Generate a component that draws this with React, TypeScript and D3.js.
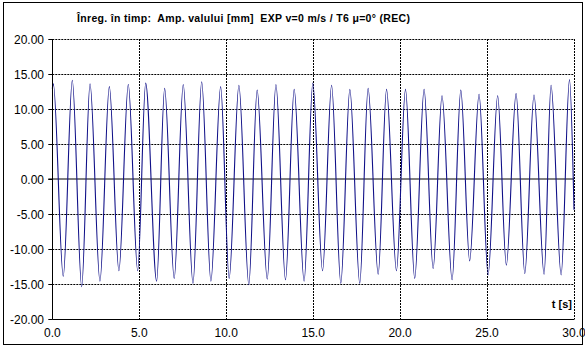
import React from "react";
import * as d3 from "d3";

const times = [
  0, 0.06, 0.63, 1.15, 1.69, 2.17, 2.74, 3.28, 3.83, 4.37, 4.91, 5.37, 6.0, 6.46, 7.01, 7.53,
  8.09, 8.59, 9.12, 9.68, 10.17, 10.73, 11.3, 11.78, 12.36, 12.86, 13.41, 13.91, 14.48, 14.98,
  15.54, 16.06, 16.59, 17.11, 17.68, 18.16, 18.74, 19.22, 19.79, 20.31, 20.84, 21.38, 21.9,
  22.41, 22.99, 23.49, 24.0, 24.54, 25.06, 25.61, 26.11, 26.67, 27.17, 27.7, 28.28, 28.68,
  29.26, 29.74, 30.0,
];
const amplitudes = [
  12.9, 13.6, -13.9, 14.1, -15.4, 13.6, -14.6, 13.2, -13.1, 13.5, -13.1, 13.7, -14.6, 12.95,
  -14.2, 13.5, -14.9, 13.9, -14.6, 13.2, -14.2, 13.4, -15.1, 12.7, -14.3, 13.5, -14.4, 12.8,
  -14.6, 13.7, -13.1, 13.4, -14.9, 12.8, -14.9, 12.95, -13.6, 12.8, -13.1, 12.8, -14.2, 12.8,
  -12.8, 11.9, -14.4, 12.7, -11.7, 12.1, -13.7, 11.9, -12.3, 12.2, -13.5, 12.0, -13.6, 13.4,
  -13.7, 14.2, -4.4,
];
const yTicks = [20, 15, 10, 5, 0, -5, -10, -15, -20];
const xTicks = [0, 5, 10, 15, 20, 25, 30];
const title = "Înreg. în timp:  Amp. valului [mm]  EXP v=0 m/s / T6 \u03bc=0° (REC)";
const xLabel = "t [s]";

export default function App() {
  const W = 585;
  const H = 347;
  const left = 52.3;
  const right = 574;
  const top = 39;
  const bottom = 319;
  const x = d3.scaleLinear().domain([0, 30]).range([left, right]);
  const y = d3.scaleLinear().domain([-20, 20]).range([bottom, top]);
  const pts = times.map((t, i) => [t, amplitudes[i]] as [number, number]);
  const line = d3
    .line<[number, number]>()
    .x((d) => x(d[0]))
    .y((d) => y(d[1]))
    .curve(d3.curveMonotoneX);
  const font = "'Liberation Sans', Arial, sans-serif";
  return (
    <svg
      width={W}
      height={H}
      style={{ position: "absolute", left: 0, top: 0, background: "#fff" }}
    >
      <rect x={3.5} y={2.5} width={579} height={342} fill="#fff" stroke="#000" strokeWidth={1} />
      <text
        x={243.5}
        y={22}
        textAnchor="middle"
        fontFamily={font}
        fontWeight="bold"
        fontSize={10.5}
        fill="#000"
        textLength={333}
        lengthAdjust="spacing"
        style={{ whiteSpace: "pre" }}
      >
        {title}
      </text>
      {yTicks
        .filter((v) => v !== 0 && v !== -20)
        .map((v) => (
          <line
            key={"hy" + v}
            x1={left}
            x2={right}
            y1={Math.round(y(v)) + 0.5}
            y2={Math.round(y(v)) + 0.5}
            stroke="#000"
            strokeWidth={1}
            strokeDasharray="2,1"
          />
        ))}
      {xTicks
        .filter((v) => v !== 0)
        .map((v) => (
          <line
            key={"vx" + v}
            x1={Math.round(x(v)) + 0.5}
            x2={Math.round(x(v)) + 0.5}
            y1={top}
            y2={bottom}
            stroke="#000"
            strokeWidth={1}
            strokeDasharray="2,1"
          />
        ))}
      <line x1={left - 4} x2={right} y1={y(0)} y2={y(0)} stroke="#808080" strokeWidth={2} />
      <path d={line(pts) || ""} fill="none" stroke="#101088" strokeWidth={1.1} />
      <line x1={Math.round(left) + 0.5} x2={Math.round(left) + 0.5} y1={top} y2={bottom + 0.5} stroke="#000" />
      <line x1={left} x2={right + 0.5} y1={bottom + 0.5} y2={bottom + 0.5} stroke="#000" />
      {yTicks.map((v) => (
        <g key={"yt" + v}>
          <line
            x1={left - 4}
            x2={left}
            y1={Math.round(y(v)) + 0.5}
            y2={Math.round(y(v)) + 0.5}
            stroke="#000"
          />
          <text
            x={44}
            y={y(v) + 4.5}
            textAnchor="end"
            fontFamily={font}
            fontSize={12}
            fill="#000"
          >
            {v.toFixed(2)}
          </text>
        </g>
      ))}
      {xTicks.map((v) => (
        <text
          key={"xt" + v}
          x={x(v)}
          y={337}
          textAnchor="middle"
          fontFamily={font}
          fontSize={12}
          fill="#000"
        >
          {v.toFixed(1)}
        </text>
      ))}
      <text
        x={572}
        y={308}
        textAnchor="end"
        fontFamily={font}
        fontWeight="bold"
        fontSize={11}
        fill="#000"
      >
        {xLabel}
      </text>
    </svg>
  );
}
